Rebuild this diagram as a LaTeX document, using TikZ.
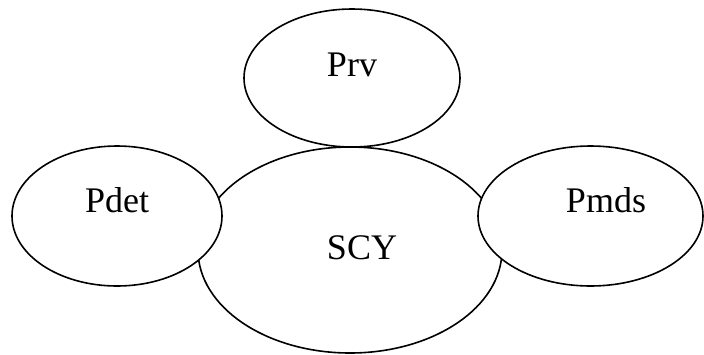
\documentclass[tikz,border=0pt]{standalone}
\usepackage{fontspec}
\setmainfont{Liberation Serif}
\usetikzlibrary{shapes.geometric}
\newcommand{\bubble}[5]{%%
  \node[bubbleStyle,minimum width=#4,minimum height=#5] (#1) at (#2,#3) {};
}
\newcommand{\bubbleText}[4]{%%
  \node[textStyle] (#1Text) at ([xshift=#2,yshift=#3]#1.center) {#4};
}

\begin{document}
\begin{tikzpicture}[%%
  x=1pt,y=-1pt,%%
  bubbleStyle/.style={ellipse,draw=black,fill=white,line width=1.6pt,inner sep=0pt,outer sep=0pt},%%
  textStyle/.style={inner sep=0pt,font=\fontsize{36}{40}\selectfont}
]
%%
%% The frame of the picture.
\useasboundingbox (0,0) rectangle (704,354);
%%
%% The central bubble, drawn first so that the others cover it.
\bubble{SCY}{350}{250}{304pt}{206pt}
%% The upper bubble.
\bubble{Prv}{352}{78}{216pt}{138pt}
%% The left bubble.
\bubble{Pdet}{117}{216}{210pt}{140pt}
%% The right bubble.
\bubble{Pmds}{590.5}{216}{225pt}{140pt}
%%
%% The names in the bubbles.
\bubbleText{SCY}{12pt}{2pt}{SCY}
\bubbleText{Prv}{0pt}{13pt}{Prv}
\bubbleText{Pdet}{0pt}{16pt}{Pdet}
\bubbleText{Pmds}{15.5pt}{16pt}{Pmds}
\end{tikzpicture}
\end{document}
